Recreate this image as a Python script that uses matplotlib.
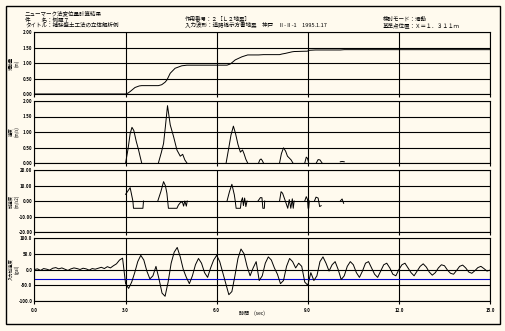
import numpy as np
import matplotlib.pyplot as plt
from matplotlib.patches import Rectangle

plt.rcParams['font.family'] = ['Noto Sans CJK JP', 'DejaVu Sans']

BG = '#fffaee'

# header texts
title_main = "ニューマーク法変位量計算結果"
case_name = "件　　名：例題７"
case_title = "タイトル：補強盛土工法の立体解析例"
load_no = "作用番号：２［Ｌ２地震］"
wave_name = "入力波形：道路橋示方書地震　神戸　Ⅱ-Ⅱ-1　1995.1.17"
mode_name = "検討モード：滑動"
point_pos = "基準点位置：Ｘ＝１．３１１ｍ"

panel_labels = ["滑動量\n(m)", "速度\n(m/s)", "加速度\n(m/s2)", "入力加速度\n(gal)"]
x_label = "時間　(sec)"

# panel 1: cumulative sliding displacement
disp_t = [0.0, 3.00, 3.08, 3.15, 3.31, 3.45, 3.53, 4.08, 4.19, 4.30, 4.36, 4.47, 4.63,
          4.85, 5.02, 6.34, 6.45, 6.55, 6.61, 6.83, 7.02, 7.38, 7.54, 8.07, 8.15, 8.26,
          8.48, 8.55, 8.92, 8.98, 9.05, 9.25, 9.45, 10.07, 10.2, 15.0]
disp_v = [0.0, 0.0, 0.03, 0.08, 0.21, 0.26, 0.27, 0.27, 0.30, 0.38, 0.45, 0.67, 0.83,
          0.91, 0.93, 0.93, 0.97, 1.05, 1.10, 1.20, 1.26, 1.26, 1.27, 1.27, 1.29, 1.31,
          1.36, 1.37, 1.38, 1.38, 1.41, 1.42, 1.42, 1.42, 1.43, 1.43]

# panel 2: relative velocity, one list per sliding episode
vel_t = [[3.00, 3.08, 3.15, 3.21, 3.27, 3.35, 3.42, 3.48, 3.53],
         [4.08, 4.18, 4.25, 4.31, 4.38, 4.47, 4.58, 4.69, 4.80, 4.88, 4.95, 5.02],
         [6.31, 6.40, 6.47, 6.55, 6.62, 6.70, 6.78, 6.85, 6.90, 6.96, 7.02],
         [7.38, 7.42, 7.46, 7.50, 7.54],
         [8.07, 8.13, 8.20, 8.27, 8.33, 8.40, 8.45, 8.51],
         [8.90, 8.95, 8.99, 9.03],
         [9.28, 9.34, 9.40, 9.47],
         [10.07, 10.13, 10.20]]
vel_v = [[0.0, 0.45, 0.95, 1.15, 1.05, 0.70, 0.45, 0.20, 0.0],
         [0.0, 0.35, 0.63, 1.17, 1.85, 1.23, 0.85, 0.42, 0.22, 0.28, 0.10, 0.0],
         [0.0, 0.50, 0.90, 1.19, 0.95, 0.60, 0.35, 0.42, 0.30, 0.12, 0.0],
         [0.0, 0.10, 0.13, 0.08, 0.0],
         [0.0, 0.30, 0.49, 0.38, 0.22, 0.15, 0.10, 0.0],
         [0.0, 0.19, 0.15, 0.0],
         [0.0, 0.11, 0.10, 0.0],
         [0.04, 0.05, 0.04]]

# panel 3: relative acceleration, one list per sliding episode
rac_t = [[3.00, 3.15, 3.24, 3.26, 3.57, 3.59],
         [4.06, 4.16, 4.25, 4.31, 4.36, 4.41, 4.69, 4.74, 4.81, 4.87, 4.91, 4.95, 5.00, 5.03],
         [6.34, 6.42, 6.50, 6.58, 6.61, 6.64, 6.78, 6.81, 6.85, 6.88, 6.92, 6.96, 7.00],
         [7.36, 7.44, 7.49, 7.52, 7.57, 7.58],
         [8.07, 8.12, 8.17, 8.26, 8.34, 8.39, 8.44, 8.49, 8.52, 8.55],
         [8.90, 8.95, 8.99, 9.01, 9.03, 9.05],
         [9.22, 9.27, 9.34, 9.39, 9.44],
         [10.07, 10.13, 10.18]]
rac_v = [[4.3, 8.6, 0.0, -4.7, -4.7, 0.0],
         [0.0, 6.0, 12.5, 9.9, 5.0, -4.7, -4.7, -2.6, -0.9, -0.6, -3.3, 0.0, -3.3, 0.0],
         [0.0, 6.0, 10.8, 4.0, 0.0, -4.7, -4.7, 0.0, 2.1, -3.0, 1.9, -3.6, 0.0],
         [0.0, 2.2, 2.1, -4.7, -4.7, 0.0],
         [0.0, 6.0, 5.0, 0.0, -4.7, 0.9, -4.7, 1.4, -4.7, 0.0],
         [0.0, 2.8, 1.0, -4.7, -4.7, 0.0],
         [0.0, 2.5, 1.9, -3.6, -3.0],
         [0.0, 1.3, -1.5]]

# panel 4: input acceleration, sampled every 0.1 s from 0 to 15 s
acc_v = [0, 2, -3, 3, 1, -2, 4, 6, 2, 5,
         1, -3, 2, 5, 3, 0, 4, 2, -2, 3,
         1, 4, 7, 3, 9, 5, 12, 18, 30, 36,
         -45, -60, -40, -10, 25, 45, 30, -5, -30, -20,
         10, -30, -75, -85, -40, 20, 55, 70, 40, 0,
         -25, -45, -20, 15, 35, 20, -10, -25, 5, 30,
         45, 25, -10, -45, -80, -70, -20, 35, 65, 50,
         10, -20, 5, 25, -35, -20, 20, 40, 30, 5,
         -15, -45, -35, 10, 35, 25, 5, 20, 10, -40,
         -50, -10, -35, -20, 25, 40, 20, -5, 15, 25,
         0, -32, -20, 10, 25, 15, -10, -25, -5, 20,
         25, 5, -15, -25, -5, 15, 20, 5, -15, -20,
         0, 15, 20, 5, -10, -20, -5, 10, 18, 8,
         -8, -18, -10, 5, 15, 12, -2, -12, -15, -3,
         10, 14, 5, -8, -12, -4, 6, 10, 3, -5, -2]
acc_t = np.round(np.arange(len(acc_v)) * 0.1, 1)
acc_limit = -31.0

y_ranges = [(0.0, 2.0, 0.5, "%.2f"), (0.0, 2.0, 0.5, "%.2f"),
            (-20.0, 20.0, 10.0, "%.2f"), (-100.0, 100.0, 50.0, "%.1f")]
x_ticks = [0, 3, 6, 9, 12, 15]

W, H = 506, 331
fig = plt.figure(figsize=(W / 100, H / 100), dpi=100, facecolor=BG)

fig.patches.append(Rectangle((6 / W, 1 - 324 / H), 494 / W, 318 / H, transform=fig.transFigure,
                             fill=False, edgecolor='black', linewidth=1.0))

fs = 4.0
fig.text(25 / W, 1 - 13 / H, title_main, fontsize=fs, va='center')
fig.text(25 / W, 1 - 19 / H, case_name, fontsize=fs, va='center')
fig.text(25 / W, 1 - 25 / H, case_title, fontsize=fs, va='center')
fig.text(185 / W, 1 - 19 / H, load_no, fontsize=fs, va='center')
fig.text(185 / W, 1 - 25 / H, wave_name, fontsize=fs, va='center')
fig.text(383 / W, 1 - 19 / H, mode_name, fontsize=fs, va='center')
fig.text(383 / W, 1 - 25 / H, point_pos, fontsize=fs, va='center')

left, right = 34.5, 490
bounds = [(32, 94), (101, 163), (170, 232), (238, 301)]
axes = []
for i, (top, bot) in enumerate(bounds):
    ax = fig.add_axes([left / W, 1 - bot / H, (right - left) / W, (bot - top) / H])
    ax.set_facecolor(BG)
    lo, hi, step, fmt = y_ranges[i]
    ax.set_xlim(0, 15)
    ax.set_ylim(lo, hi)
    ticks = np.arange(lo, hi + step / 2, step)
    ax.set_yticks(ticks)
    ax.set_yticklabels([fmt % v for v in ticks])
    ax.set_xticks(x_ticks)
    ax.grid(True, color='black', linewidth=0.8)
    for s in ax.spines.values():
        s.set_linewidth(0.8)
    ax.tick_params(axis='y', length=0, pad=1.5, labelsize=3.2)
    ax.tick_params(axis='x', length=2.5, width=0.8, direction='out', pad=2.5, labelsize=3.2)
    if i < 3:
        ax.set_xticklabels([])
    else:
        ax.set_xticklabels(["%.1f" % v for v in x_ticks])
    for lab in ax.get_yticklabels() + ax.get_xticklabels():
        lab.set_fontweight('bold')
    fig.text(14 / W, 1 - (top + bot) / 2 / H, panel_labels[i], fontsize=3.2, rotation=90,
             ha='center', va='center', linespacing=1.0)
    axes.append(ax)

axes[0].plot(disp_t, disp_v, color='black', linewidth=0.7)
for t, v in zip(vel_t, vel_v):
    axes[1].plot(t, v, color='black', linewidth=0.7)
for t, v in zip(rac_t, rac_v):
    axes[2].plot(t, v, color='black', linewidth=0.7)
axes[3].axhline(acc_limit, color='#0000cc', linewidth=0.8)
axes[3].plot(acc_t, acc_v, color='black', linewidth=0.7)

fig.text(252 / W, 1 - 313 / H, x_label, fontsize=3.6, ha='center', va='center')

fig.savefig('out.png', dpi=100, facecolor=BG)
